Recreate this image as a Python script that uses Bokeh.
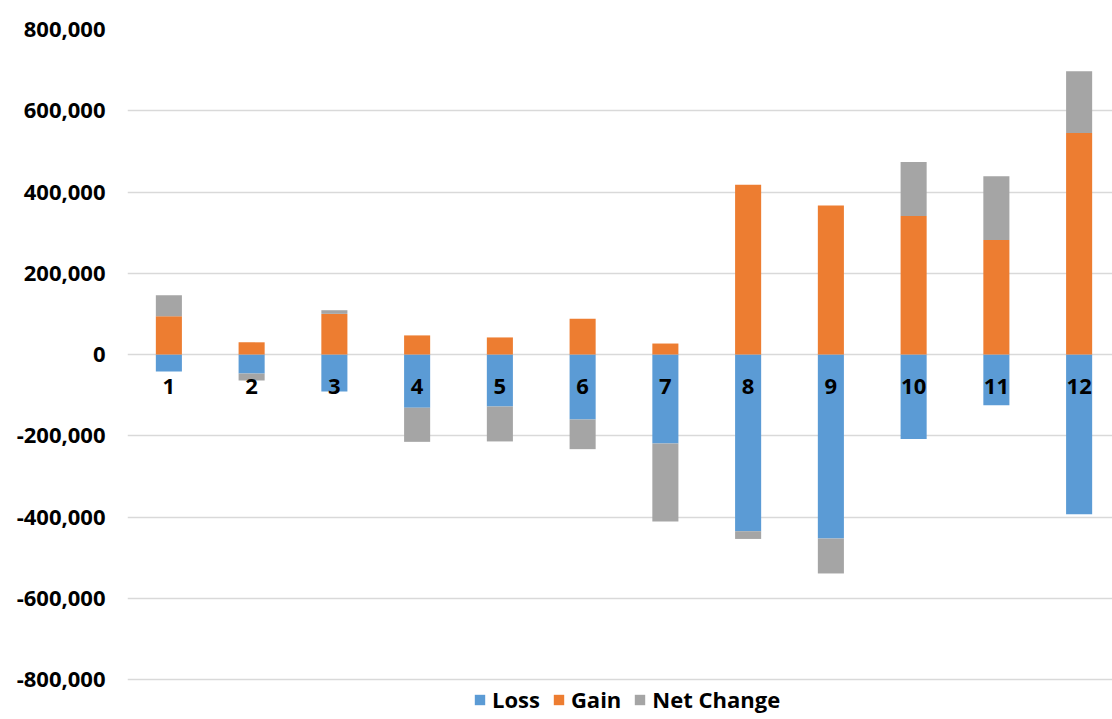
from bokeh.plotting import figure
from bokeh.models import (ColumnDataSource, Range1d, FixedTicker,
                          NumeralTickFormatter, Legend, LegendItem)
from bokeh.core.properties import value
from bokeh.embed import file_html
from bokeh.resources import INLINE

# Monthly flows: losses (negative), gains (positive) and the resulting net change
categories = ["1", "2", "3", "4", "5", "6", "7", "8", "9", "10", "11", "12"]
loss = [-42000, -47000, -91000, -131000, -128000, -160000,
        -219000, -435000, -453000, -208000, -125000, -393000]
gain = [94000, 30000, 100000, 47000, 42000, 88000,
        27000, 418000, 367000, 341000, 282000, 545000]
net_change = [52000, -17000, 9000, -84000, -86000, -73000,
              -192000, -19000, -86000, 133000, 157000, 152000]
y_ticks = [-800000, -600000, -400000, -200000, 0, 200000, 400000, 600000, 800000]

FONT = "Open Sans"
LABEL_SIZE = "22px"
BLUE, ORANGE, GRAY = "#5B9BD5", "#ED7D31", "#A5A5A5"

W, H = 1112, 719
LEFT, TOP = 127, 29
CAT_PX = 82.75                       # pixel width of one category slot
frame_w = W - LEFT
frame_h = H - TOP
units_per_px = 1600000 / 650.0        # 800,000 .. -800,000 spans 650 px

xs = list(range(1, len(categories) + 1))

# stack net change on the gain side when positive, under the loss when negative
net_bottom = [g if n >= 0 else l for g, l, n in zip(gain, loss, net_change)]
net_top = [b + n for b, n in zip(net_bottom, net_change)]

src = ColumnDataSource(dict(
    x=xs, cat=categories, zero=[0] * len(xs),
    loss=loss, gain=gain, net_bottom=net_bottom, net_top=net_top,
))

y_top = 800000
y_bottom = y_top - frame_h * units_per_px

p = figure(width=W, height=H, output_backend="svg", toolbar_location=None,
           x_range=Range1d(0.5, 0.5 + frame_w / CAT_PX),
           y_range=Range1d(y_bottom, y_top),
           x_axis_location=None,
           min_border_left=LEFT, min_border_right=0,
           min_border_top=TOP, min_border_bottom=0)
p.outline_line_color = None
p.background_fill_color = "white"
p.border_fill_color = "white"

p.xgrid.visible = False
p.ygrid.ticker = FixedTicker(ticks=y_ticks)
p.ygrid.grid_line_color = "#d9d9d9"
p.ygrid.grid_line_width = 1.5

ax = p.yaxis[0]
ax.ticker = FixedTicker(ticks=y_ticks)
ax.formatter = NumeralTickFormatter(format="0,0")
ax.axis_line_color = None
ax.major_tick_line_color = None
ax.minor_tick_line_color = None
ax.major_tick_out = 0
ax.major_tick_in = 0
ax.minor_tick_out = 0
ax.minor_tick_in = 0
ax.major_label_standoff = 22
ax.major_label_text_font = FONT
ax.major_label_text_font_size = LABEL_SIZE
ax.major_label_text_font_style = "bold"
ax.major_label_text_color = "black"

BAR_W = 0.315
r_loss = p.vbar(x="x", bottom="zero", top="loss", width=BAR_W, source=src,
                fill_color=BLUE, line_color=None)
r_gain = p.vbar(x="x", bottom="zero", top="gain", width=BAR_W, source=src,
                fill_color=ORANGE, line_color=None)
r_net = p.vbar(x="x", bottom="net_bottom", top="net_top", width=BAR_W, source=src,
               fill_color=GRAY, line_color=None)

# category labels sit just under the zero line, over the bars
p.text(x="x", y="zero", text="cat", source=src, y_offset=31.6,
       text_align="center", text_baseline="middle",
       text_font=value(FONT), text_font_size=LABEL_SIZE,
       text_font_style="bold", text_color="black")

legend = Legend(items=[LegendItem(label="Loss", renderers=[r_loss]),
                       LegendItem(label="Gain", renderers=[r_gain]),
                       LegendItem(label="Net Change", renderers=[r_net])],
                orientation="horizontal", location=(346, 5))
legend.glyph_width = 13
legend.glyph_height = 13
legend.label_standoff = 6
legend.spacing = 12
legend.padding = 0
legend.margin = 0
legend.border_line_color = None
legend.background_fill_alpha = 0
legend.label_text_font = FONT
legend.label_text_font_size = LABEL_SIZE
legend.label_text_font_style = "bold"
legend.label_text_color = "black"
p.add_layout(legend)

open("out.html", "w").write(file_html(p, INLINE))
